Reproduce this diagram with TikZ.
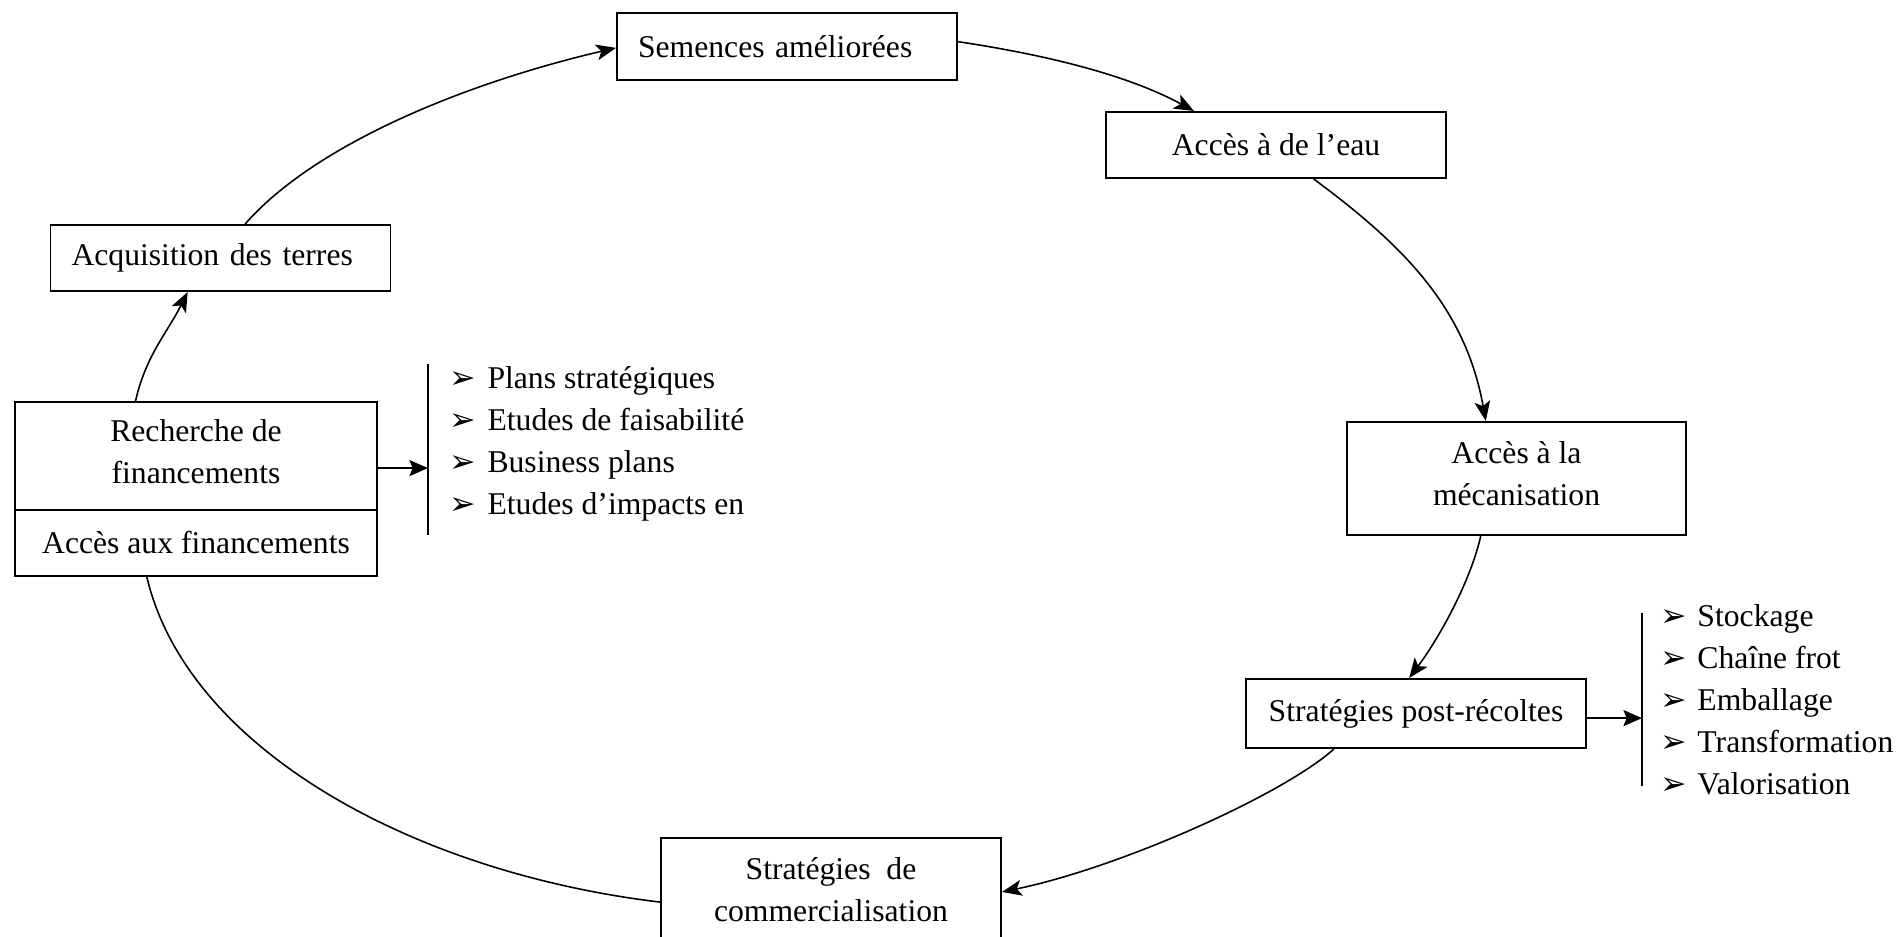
\documentclass[tikz,border=0pt]{standalone}
\usepackage{fontspec}
\setmainfont{Liberation Serif}
\newfontfamily\dejavu{DejaVu Sans}
\usetikzlibrary{arrows.meta,calc}
\newcommand{\bul}{{\dejavu\fontsize{12pt}{14pt}\selectfont ➢}}
\newcommand{\bodyfont}{\fontsize{12pt}{15.9pt}\selectfont}
\begin{document}
\begin{tikzpicture}[x=0.379pt,y=-0.379pt,
  box/.style={draw, line width=0.75pt, inner sep=0pt, align=center, font=\bodyfont},
  twoline/.style={text depth=3.7pt},
  sz/.style 2 args={minimum width=#1*0.379pt, minimum height=#2*0.379pt},
  leftbox/.style={box, inner xsep=21*0.379pt, text width=298*0.379pt, align=left},
  link/.style={line width=0.6pt, -{Stealth[length=7.5pt,width=6pt,inset=1.8pt]}},
  plain/.style={line width=0.6pt},
  bar/.style={line width=0.75pt},
  feed/.style={line width=1pt, -{Stealth[length=7pt,width=6pt,inset=1.2pt]}},
  list/.style={inner sep=0pt, font=\bodyfont, anchor=west}
]
\useasboundingbox (0,0) rectangle (1901,937);
\clip (0,0) rectangle (1901,937);

% boxes
\node[leftbox, sz={340}{67}] (sem) at (787,46.5) {Semences améliorées};
\node[box, sz={340}{66}] (eau) at (1276,145) {Accès à de l’eau};
\node[leftbox, sz={339}{66}] (acq) at (220.5,258) {Acquisition des terres};
\node[box, twoline, sz={362}{108}] (rech) at (196,456) {Recherche de\\financements};
\node[box, sz={362}{66}] (accfin) at (196,543) {Accès aux financements};
\node[box, twoline, sz={339}{113}] (meca) at (1516.5,478.5) {Accès à la\\mécanisation};
\node[box, sz={340}{69}] (post) at (1416,713.5) {Stratégies post-récoltes};
\node[box, twoline, sz={340}{113}] (comm) at (831,894.5) {Stratégies\ \ de\\commercialisation};

% lists
\node[list] (l1) at (449,443) {\def\arraystretch{1}\begin{tabular}{@{}l@{}l@{}}
\makebox[14.4pt][l]{\bul} & Plans stratégiques\\
\makebox[14.4pt][l]{\bul} & Etudes de faisabilité\\
\makebox[14.4pt][l]{\bul} & Business plans\\
\makebox[14.4pt][l]{\bul} & Etudes d’impacts en
\end{tabular}};
\node[list] (l2) at (1660,702.5) {\def\arraystretch{1}\begin{tabular}{@{}l@{}l@{}}
\makebox[14.0pt][l]{\bul} & Stockage\\
\makebox[14.0pt][l]{\bul} & Chaîne frot\\
\makebox[14.0pt][l]{\bul} & Emballage\\
\makebox[14.0pt][l]{\bul} & Transformation\\
\makebox[14.0pt][l]{\bul} & Valorisation
\end{tabular}};

% bars and feed arrows
\coordinate (b1t) at (428,364);
\coordinate (b1b) at (428,535);
\draw[bar] (b1t) -- (b1b);
\coordinate (a1) at ($(rech.north east)!0.61!(rech.south east)$);
\draw[feed] (a1) -- (a1 -| b1t);

\coordinate (b2t) at (1642,613);
\coordinate (b2b) at (1642,786);
\draw[bar] (b2t) -- (b2b);
\coordinate (a2) at ($(post.north east)!0.565!(post.south east)$);
\draw[feed] (a2) -- (a2 -| b2t);

% cycle
\draw[link] ($(rech.north west)!0.334!(rech.north east)$) .. controls +(10,-45) and +(-20,40) .. ($(acq.south west)!0.404!(acq.south east)$);
\draw[link] ($(acq.north west)!0.572!(acq.north east)$) .. controls +(70,-80) and +(-150,35) .. ($(sem.north west)!0.52!(sem.south west)$);
\draw[link] ($(sem.north east)!0.43!(sem.south east)$) .. controls +(80,12) and +(-70,-38) .. ($(eau.north west)!0.26!(eau.north east)$);
\draw[link] ($(eau.south west)!0.61!(eau.south east)$) .. controls +(95,70) and +(-20,-110) .. ($(meca.north west)!0.41!(meca.north east)$);
\draw[link] ($(meca.south west)!0.395!(meca.south east)$) .. controls +(-10,45) and +(30,-40) .. ($(post.north west)!0.48!(post.north east)$);
\draw[link] ($(post.south west)!0.26!(post.south east)$) .. controls +(-50,45) and +(120,-25) .. ($(comm.north east)!0.478!(comm.south east)$);
\draw[plain] ($(comm.north west)!0.566!(comm.south west)$) .. controls +(-250,-30) and +(40,170) .. ($(accfin.south west)!0.365!(accfin.south east)$);
\end{tikzpicture}
\end{document}
